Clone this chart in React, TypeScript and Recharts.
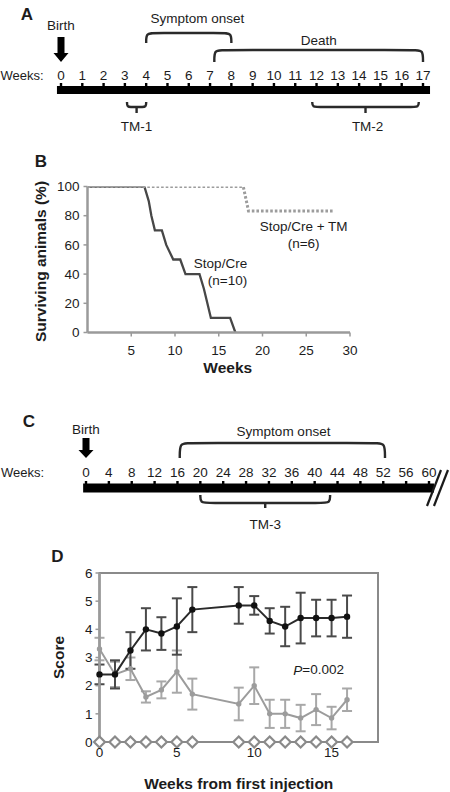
import React from 'react';
import { ComposedChart, Line, XAxis, YAxis, Scatter, ReferenceArea, ErrorBar } from 'recharts';

const FONT = '"Liberation Sans", Arial, Helvetica, sans-serif';
const INK = '#1c1c1c';

// ---------- Panel A: timeline, weeks 0-17 ----------
const weeksA = [0, 1, 2, 3, 4, 5, 6, 7, 8, 9, 10, 11, 12, 13, 14, 15, 16, 17];
const symptomOnsetA = [4, 8];
const deathA = [7.2, 17];
const tm1A = [3.1, 4];
const tm2A = [11.8, 16.8];

// ---------- Panel B: survival ----------
const stopCreWeeks = [0, 6.5, 7, 7.3, 7.7, 8.5, 9, 9.8, 10.6, 11.2, 12.8, 13.3, 13.7, 14.1, 16.3, 16.9, 17];
const stopCreSurvival = [100, 100, 90, 80, 70, 70, 60, 50, 50, 40, 40, 30, 20, 10, 10, 0, 0];
const stopCreTmWeeks = [0, 17.8, 18.4, 28.2];
const stopCreTmSurvival = [100, 100, 83.3, 83.3];
const survivalTicksX = [5, 10, 15, 20, 25, 30];
const survivalTicksY = [0, 20, 40, 60, 80, 100];

// ---------- Panel C: timeline, weeks 0-60 ----------
const weeksC = [0, 4, 8, 12, 16, 20, 24, 28, 32, 36, 40, 44, 48, 52, 56, 60];
const symptomOnsetC = [16.4, 52.3];
const tm3C = [20, 42.7];

// ---------- Panel D: clinical score ----------
const scoreWeeks = [0, 1, 2, 3, 4, 5, 6, 9, 10, 11, 12, 13, 14, 15, 16];
const stopCreScore = [2.4, 2.4, 3.25, 4.0, 3.85, 4.1, 4.7, 4.85, 4.85, 4.3, 4.1, 4.4, 4.4, 4.4, 4.45];
const stopCreScoreErr = [0.35, 0.5, 0.65, 0.75, 0.58, 1.0, 0.8, 0.65, 0.33, 0.45, 0.7, 0.9, 0.65, 0.65, 0.75];
const tmScore = [3.3, 2.4, 2.6, 1.6, 1.85, 2.5, 1.7, 1.35, 2.0, 1.0, 1.0, 0.85, 1.15, 0.85, 1.5];
const tmScoreErr = [0.4, 0.45, 0.4, 0.2, 0.3, 0.75, 0.55, 0.58, 0.65, 0.5, 0.5, 0.47, 0.55, 0.4, 0.4];
const controlScore = [0, 0, 0, 0, 0, 0, 0, 0, 0, 0, 0, 0, 0, 0, 0];
const scoreTicksX = [0, 5, 10, 15];
const scoreTicksY = [0, 1, 2, 3, 4, 5, 6];

// ---------- helpers ----------
type Pt = { x: number; y: number };
const spanDomain = (w0: number, w1: number, px0: number, px1: number, width: number): [number, number] => {
  const k = (w1 - w0) / (px1 - px0);
  return [w0 - px0 * k, w1 + (width - px1) * k];
};
const bracketUp = (s: number, e: number, base: number, top: number, c: number): Pt[] => [
  { x: s, y: base }, { x: s, y: top }, { x: s + c, y: top }, { x: e - c, y: top }, { x: e, y: top }, { x: e, y: base },
];
const braceDown = (s: number, e: number, top: number, line: number, c: number): Pt[] => {
  const m = (s + e) / 2;
  return [
    { x: s, y: top }, { x: s, y: line }, { x: s + c, y: line }, { x: m - c, y: line }, { x: m, y: line },
    { x: m + c, y: line }, { x: e - c, y: line }, { x: e, y: line }, { x: e, y: top },
  ];
};
const textShape = (size: number, weight: string = 'normal') => (p: any) => (
  <text x={p.cx} y={p.cy} textAnchor="middle" dominantBaseline="central" fontSize={size} fontWeight={weight} fill={INK} fontFamily={FONT}>
    {p.payload?.text ?? p.text}
  </text>
);
const bumpShape = (p: any) => <rect x={p.cx - 1.2} y={p.cy - 3} width={2.4} height={4} fill="#000" />;
const arrowShape = (shaft: number, head: number) => (p: any) => {
  const { cx, cy } = p;
  const d = `M${cx - 3.5},${cy} L${cx + 3.5},${cy} L${cx + 3.5},${cy + shaft} L${cx + 7.5},${cy + shaft} L${cx},${cy + shaft + head} L${cx - 7.5},${cy + shaft} L${cx - 3.5},${cy + shaft} Z`;
  return <path d={d} fill="#000" />;
};
const lineProps = { isAnimationActive: false, dot: false as const, activeDot: false as const, dataKey: 'y' };
const bracketStroke = { stroke: '#2a2a2a', strokeWidth: 2.4, fill: 'none' };

// ---------- Panel A ----------
function TimelineA() {
  const H = 135;
  const dom = spanDomain(0, 17, 61, 423, 450);
  const last = weeksA[weeksA.length - 1];
  const bar = [{ x: weeksA[0] - 0.19, y: 90 }, { x: last + 0.33, y: 90 }];
  const labels = [
    { x: 0, y: 25, text: 'Birth' },
    { x: 6.4, y: 18, text: 'Symptom onset' },
    { x: (deathA[0] + deathA[1]) / 2, y: 40, text: 'Death' },
    { x: (tm1A[0] + tm1A[1]) / 2, y: 126, text: 'TM-1' },
    { x: 14.4, y: 126, text: 'TM-2' },
  ];
  const weekLabels = weeksA.map((w) => ({ x: w, y: 75, text: String(w) }));
  const tip = (r: number[]) => [{ x: (r[0] + r[1]) / 2, y: 107 }, { x: (r[0] + r[1]) / 2, y: 113 }];
  return (
    <div style={{ position: 'absolute', left: 0, top: 0 }}>
      <ComposedChart width={450} height={H} margin={{ top: 0, right: 0, bottom: 0, left: 0 }}>
        <XAxis type="number" dataKey="x" domain={dom} hide allowDataOverflow />
        <YAxis type="number" dataKey="y" domain={[0, H]} reversed hide allowDataOverflow />
        <Line {...lineProps} data={bar} stroke="#000" strokeWidth={8} />
        <Scatter data={weeksA.map((w) => ({ x: w, y: 86 }))} shape={bumpShape} isAnimationActive={false} />
        <Line {...lineProps} {...bracketStroke} type="basis" data={bracketUp(symptomOnsetA[0], symptomOnsetA[1], 43, 33, 0.35)} />
        <Line {...lineProps} {...bracketStroke} type="basis" data={bracketUp(deathA[0], deathA[1], 62, 50, 0.35)} />
        <Line {...lineProps} {...bracketStroke} type="basis" data={braceDown(tm1A[0], tm1A[1], 102, 107, 0.22)} />
        <Line {...lineProps} {...bracketStroke} data={tip(tm1A)} />
        <Line {...lineProps} {...bracketStroke} type="basis" data={braceDown(tm2A[0], tm2A[1], 102, 107, 0.35)} />
        <Line {...lineProps} {...bracketStroke} data={tip(tm2A)} />
        <Scatter data={[{ x: 0, y: 37 }]} shape={arrowShape(16, 9)} isAnimationActive={false} />
        <Scatter data={weekLabels} shape={textShape(13.5)} isAnimationActive={false} />
        <Scatter data={labels} shape={textShape(13.5)} isAnimationActive={false} />
      </ComposedChart>
    </div>
  );
}

// ---------- Panel B ----------
function SurvivalB() {
  const stopCre = stopCreWeeks.map((w, i) => ({ w, s: stopCreSurvival[i] }));
  const stopCreTm = stopCreTmWeeks.map((w, i) => ({ w, s: stopCreTmSurvival[i] }));
  const notes = [
    { w: 24.7, s: 72.3, text: 'Stop/Cre + TM' },
    { w: 24.7, s: 61.3, text: '(n=6)' },
    { w: 15.2, s: 47.6, text: 'Stop/Cre' },
    { w: 16.0, s: 35.3, text: '(n=10)' },
  ];
  const axisTick = { fill: INK, fontSize: 13.5, fontFamily: FONT };
  return (
    <div style={{ position: 'absolute', left: 0, top: 130 }}>
      <ComposedChart width={450} height={250} margin={{ top: 56.5, right: 100, bottom: 7.5, left: 0 }}>
        <XAxis
          type="number" dataKey="w" domain={[0, 30]} ticks={survivalTicksX} allowDataOverflow height={40}
          stroke="#9a9a9a" axisLine={{ strokeWidth: 2.5 }} tickLine={{ strokeWidth: 1.5 }} tickSize={4} tickMargin={8.5} tick={axisTick}
          label={{
            content: (p: any) => {
              const vb = p.viewBox || { x: 87.5, y: 202.5, width: 262.5 };
              return (
                <text x={vb.x + vb.width / 2 + 9} y={vb.y + 34.5} textAnchor="middle" dominantBaseline="central" fontSize={15.5} fontWeight="bold" fill={INK} fontFamily={FONT}>Weeks</text>
              );
            },
          }}
        />
        <YAxis
          type="number" dataKey="s" domain={[0, 100]} ticks={survivalTicksY} allowDataOverflow width={87.5}
          stroke="#9a9a9a" axisLine={{ strokeWidth: 2.5 }} tickLine={{ strokeWidth: 1.5 }} tickSize={4} tickMargin={4} tick={axisTick}
          label={{
            content: (p: any) => {
              const vb = p.viewBox || { x: 0, y: 56.5, width: 87.5, height: 146 };
              const cx = vb.x + vb.width - 47.5;
              const cy = vb.y + vb.height / 2 + 2;
              return (
                <text x={cx} y={cy} transform={`rotate(-90 ${cx} ${cy})`} textAnchor="middle" dominantBaseline="central" fontSize={15.5} fontWeight="bold" fill={INK} fontFamily={FONT}>Surviving animals (%)</text>
              );
            },
          }}
        />
        <Line data={stopCre} dataKey="s" stroke="#474747" strokeWidth={2.3} dot={false} activeDot={false} isAnimationActive={false} />
        <Line data={stopCreTm} dataKey="s" stroke="#9c9c9c" strokeWidth={3} strokeDasharray="2.6 2" dot={false} activeDot={false} isAnimationActive={false} />
        <Scatter data={notes} shape={textShape(13.5)} isAnimationActive={false} />
      </ComposedChart>
    </div>
  );
}

// ---------- Panel C ----------
function TimelineC() {
  const H = 135;
  const dom = spanDomain(0, 60, 86, 429, 450);
  const bar = [{ x: -0.5, y: 88 }, { x: 60.87, y: 88 }];
  const labels = [
    { x: 0, y: 29, text: 'Birth' },
    { x: (symptomOnsetC[0] + symptomOnsetC[1]) / 2 + 0.2, y: 31, text: 'Symptom onset' },
    { x: (tm3C[0] + tm3C[1]) / 2, y: 124, text: 'TM-3' },
  ];
  const weekLabels = weeksC.map((w) => ({ x: w, y: 72, text: String(w) }));
  const mid = (tm3C[0] + tm3C[1]) / 2;
  const slash1 = [{ x: 62.1, y: 70 }, { x: 59.65, y: 106 }];
  const slash2 = [{ x: 63.32, y: 70 }, { x: 60.87, y: 106 }];
  return (
    <div style={{ position: 'absolute', left: 0, top: 400 }}>
      <ComposedChart width={450} height={H} margin={{ top: 0, right: 0, bottom: 0, left: 0 }}>
        <XAxis type="number" dataKey="x" domain={dom} hide allowDataOverflow />
        <YAxis type="number" dataKey="y" domain={[0, H]} reversed hide allowDataOverflow />
        <Line {...lineProps} data={bar} stroke="#000" strokeWidth={9} />
        <Scatter data={weeksC.map((w) => ({ x: w, y: 84 }))} shape={bumpShape} isAnimationActive={false} />
        <Line {...lineProps} data={slash1} stroke="#1a1a1a" strokeWidth={2.2} />
        <Line {...lineProps} data={slash2} stroke="#1a1a1a" strokeWidth={2.2} />
        <Line {...lineProps} {...bracketStroke} type="basis" data={bracketUp(symptomOnsetC[0], symptomOnsetC[1], 58, 43, 1.4)} />
        <Line {...lineProps} {...bracketStroke} type="basis" data={braceDown(tm3C[0], tm3C[1], 95, 103, 1.4)} />
        <Line {...lineProps} {...bracketStroke} data={[{ x: mid, y: 103 }, { x: mid, y: 108 }]} />
        <Scatter data={[{ x: 0, y: 38 }]} shape={arrowShape(12, 8)} isAnimationActive={false} />
        <Scatter data={weekLabels} shape={textShape(13.5)} isAnimationActive={false} />
        <Scatter data={labels} shape={textShape(13.5)} isAnimationActive={false} />
      </ComposedChart>
    </div>
  );
}

// ---------- Panel D ----------
function ScoreD() {
  const rows = scoreWeeks.map((week, i) => ({
    week,
    stopCre: stopCreScore[i],
    stopCreErr: stopCreScoreErr[i],
    tm: tmScore[i],
    tmErr: tmScoreErr[i],
    control: controlScore[i],
  }));
  const axisTick = { fill: INK, fontSize: 13.5, fontFamily: FONT };
  const diamond = (p: any) => {
    const { cx, cy, index } = p;
    const r = 5.5;
    return <path key={`dm${index}`} d={`M${cx},${cy - r} L${cx + r},${cy} L${cx},${cy + r} L${cx - r},${cy} Z`} fill="#fff" stroke="#8a8a8a" strokeWidth={2.2} />;
  };
  const pShape = (p: any) => (
    <text x={p.cx} y={p.cy} textAnchor="middle" dominantBaseline="central" fontSize={13.5} fill={INK} fontFamily={FONT}>
      <tspan fontStyle="italic">P</tspan>=0.002
    </text>
  );
  return (
    <div style={{ position: 'absolute', left: 0, top: 540 }}>
      <ComposedChart width={450} height={252} data={rows} margin={{ top: 33, right: 72, bottom: 0, left: 0 }}>
        <XAxis
          type="number" dataKey="week" domain={[0, 18]} ticks={scoreTicksX} height={50}
          axisLine={false} tickLine={false} tickSize={0} tickMargin={5.5} tick={axisTick}
          label={{
            content: (p: any) => {
              const vb = p.viewBox || { x: 99.5, y: 202, width: 278.5 };
              return (
                <text x={vb.x + vb.width / 2} y={vb.y + 41} textAnchor="middle" dominantBaseline="central" fontSize={15.5} fontWeight="bold" fill={INK} fontFamily={FONT}>Weeks from first injection</text>
              );
            },
          }}
        />
        <YAxis
          type="number" dataKey="v" domain={[0, 6]} ticks={scoreTicksY} width={99.5}
          stroke="#9a9a9a" axisLine={{ strokeWidth: 2.5 }} tickLine={{ strokeWidth: 1.5 }} tickSize={4} tickMargin={3} tick={axisTick}
          label={{
            content: (p: any) => {
              const vb = p.viewBox || { x: 0, y: 33, width: 99.5, height: 169 };
              const cx = vb.x + vb.width - 41.5;
              const cy = vb.y + vb.height / 2;
              return (
                <text x={cx} y={cy} transform={`rotate(-90 ${cx} ${cy})`} textAnchor="middle" dominantBaseline="central" fontSize={15.5} fontWeight="bold" fill={INK} fontFamily={FONT}>Score</text>
              );
            },
          }}
        />
        <ReferenceArea x1={0} x2={18} y1={0} y2={6} fill="none" stroke="#8a8a8a" strokeWidth={2} />
        <Line dataKey="tm" stroke="#9c9c9c" strokeWidth={2} dot={{ r: 2.7, fill: '#9c9c9c', stroke: 'none' }} activeDot={false} isAnimationActive={false}>
          <ErrorBar dataKey="tmErr" width={5} stroke="#a8a8a8" strokeWidth={2} direction="y" />
        </Line>
        <Line dataKey="stopCre" stroke="#2a2a2a" strokeWidth={2} dot={{ r: 3.2, fill: '#111', stroke: 'none' }} activeDot={false} isAnimationActive={false}>
          <ErrorBar dataKey="stopCreErr" width={5} stroke="#4a4a4a" strokeWidth={2} direction="y" />
        </Line>
        <Line dataKey="control" stroke="#8a8a8a" strokeWidth={2} dot={diamond} activeDot={false} isAnimationActive={false} />
        <Scatter data={[{ week: 14.16, v: 2.56 }]} shape={pShape} isAnimationActive={false} />
      </ComposedChart>
    </div>
  );
}

export default function App() {
  const letter = { fontSize: 17, fontWeight: 'bold' as const, fill: INK, fontFamily: FONT };
  const plain = { fontSize: 13, fill: INK, fontFamily: FONT };
  return (
    <div style={{ position: 'absolute', left: 0, top: 0, width: 450, height: 792, background: '#fff', overflow: 'hidden' }}>
      <TimelineA />
      <SurvivalB />
      <TimelineC />
      <ScoreD />
      <svg width={450} height={792} style={{ position: 'absolute', left: 0, top: 0, pointerEvents: 'none' }}>
        <text x={27} y={14.5} textAnchor="middle" dominantBaseline="central" {...letter}>A</text>
        <text x={41} y={161} textAnchor="middle" dominantBaseline="central" {...letter}>B</text>
        <text x={29} y={421} textAnchor="middle" dominantBaseline="central" {...letter}>C</text>
        <text x={57.5} y={556} textAnchor="middle" dominantBaseline="central" {...letter}>D</text>
        <text x={0.5} y={75} textAnchor="start" dominantBaseline="central" {...plain}>Weeks:</text>
        <text x={1} y={472} textAnchor="start" dominantBaseline="central" {...plain}>Weeks:</text>
      </svg>
    </div>
  );
}
